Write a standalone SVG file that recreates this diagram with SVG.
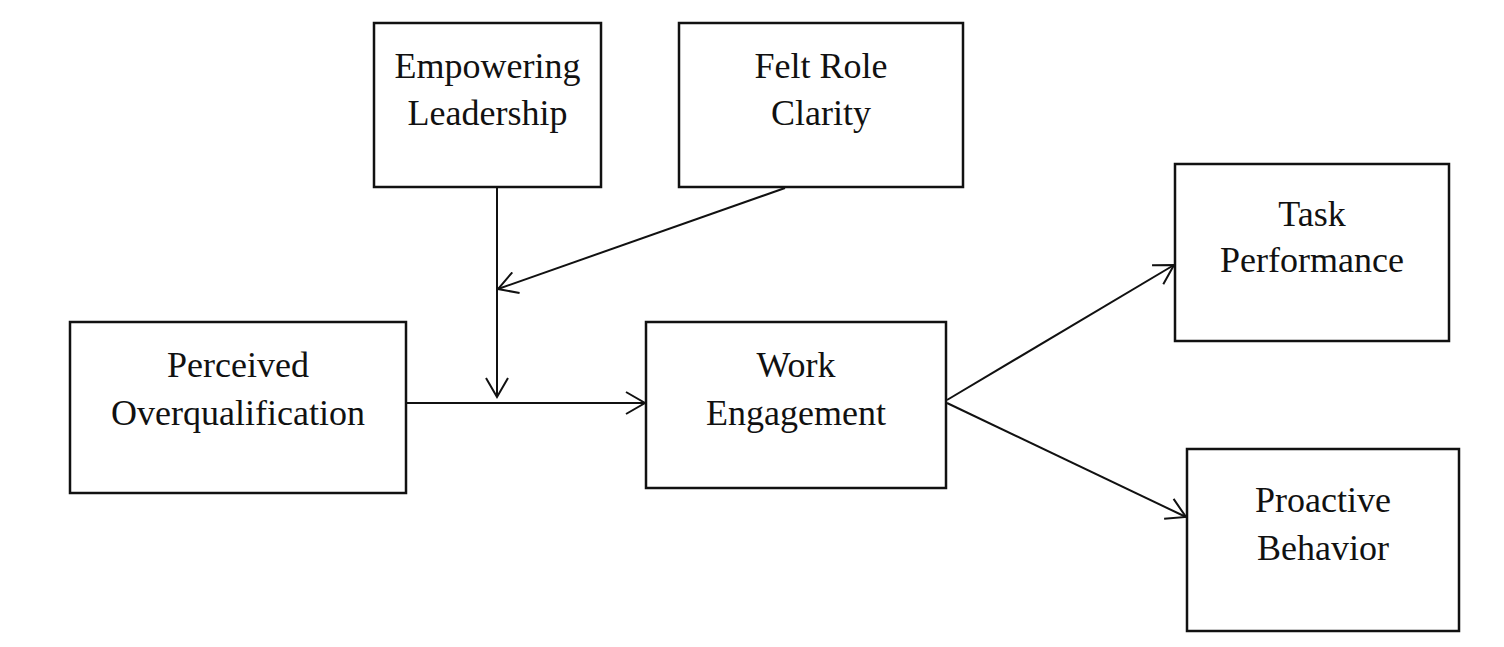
<svg xmlns="http://www.w3.org/2000/svg" width="1504" height="647" viewBox="0 0 1504 647">
<style>
.box{fill:#fff;stroke:#111;stroke-width:2.5}
.lbl{font-family:"Liberation Serif","Times New Roman",serif;font-size:36px;fill:#111;text-anchor:middle}
.edge{stroke:#111;stroke-width:2;fill:none;marker-end:url(#arr)}
</style>
<defs>
<marker id="arr" viewBox="0 0 22 24" refX="20" refY="12" markerWidth="22" markerHeight="24" markerUnits="userSpaceOnUse" orient="auto">
<path d="M1,1 L20,12 L1,23" fill="none" stroke="#111" stroke-width="2"/>
</marker>
</defs>
<rect width="1504" height="647" fill="#fff"/>
<g id="empowering">
<rect class="box" x="374" y="23" width="227" height="164"/>
<text class="lbl" x="487.5" y="78">Empowering</text>
<text class="lbl" x="487.5" y="125">Leadership</text>
</g>
<g id="feltrole">
<rect class="box" x="679" y="23" width="284" height="164"/>
<text class="lbl" x="821" y="78">Felt Role</text>
<text class="lbl" x="821" y="125">Clarity</text>
</g>
<g id="poq">
<rect class="box" x="70" y="322" width="336" height="171"/>
<text class="lbl" x="238" y="377">Perceived</text>
<text class="lbl" x="238" y="425">Overqualification</text>
</g>
<g id="work">
<rect class="box" x="646" y="322" width="300" height="166"/>
<text class="lbl" x="796" y="377">Work</text>
<text class="lbl" x="796" y="425">Engagement</text>
</g>
<g id="task">
<rect class="box" x="1175" y="164" width="274" height="177"/>
<text class="lbl" x="1312" y="226">Task</text>
<text class="lbl" x="1312" y="272">Performance</text>
</g>
<g id="proactive">
<rect class="box" x="1187" y="449" width="272" height="182"/>
<text class="lbl" x="1323" y="512">Proactive</text>
<text class="lbl" x="1323" y="560">Behavior</text>
</g>
<g id="connectors">
<line class="edge" x1="497" y1="188" x2="497" y2="397"/>
<line class="edge" x1="785" y1="188" x2="498" y2="289"/>
<line class="edge" x1="407" y1="403" x2="645" y2="403"/>
<line class="edge" x1="947" y1="400" x2="1174" y2="265"/>
<line class="edge" x1="947" y1="403" x2="1186" y2="517"/>
</g>
</svg>
